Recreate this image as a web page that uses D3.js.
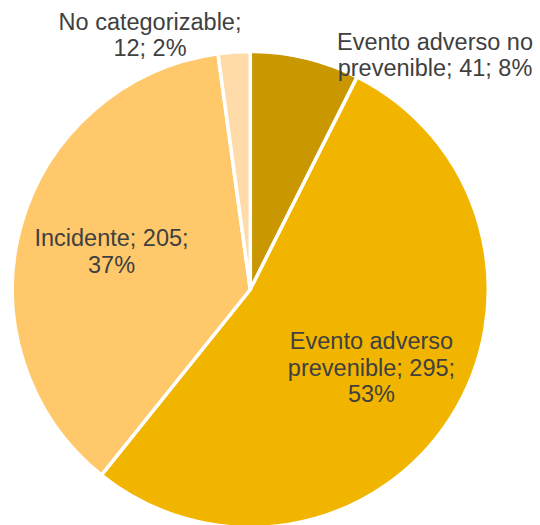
<!DOCTYPE html>
<html>
<head>
<meta charset="utf-8">
<script src="https://cdn.jsdelivr.net/npm/d3@7/dist/d3.min.js"></script>
<style>
  html, body { margin: 0; padding: 0; background: #fff; }
  svg { display: block; }
</style>
</head>
<body>
<svg id="chart" width="540" height="525"></svg>
<script>
// Slices, clockwise from 12 o'clock
const categories = ["Evento adverso no prevenible", "Evento adverso prevenible", "Incidente", "No categorizable"];
const counts = [41, 295, 205, 12];
const percents = [8, 53, 37, 2];
// Label text broken into lines
const labelLines = [
  ["Evento adverso no", "prevenible; 41; 8%"],
  ["Evento adverso", "prevenible; 295;", "53%"],
  ["Incidente; 205;", "37%"],
  ["No categorizable;", "12; 2%"]
];
const colors = ["#C99700", "#F1B500", "#FEC86B", "#FEDBA8"];

const width = 540, height = 525;
const cx = 250.3, cy = 289.5, radius = 238;
const fontSize = 23.5, lineHeight = 26.5;

const svg = d3.select("#chart");
const g = svg.append("g").attr("transform", `translate(${cx},${cy})`);

const data = categories.map((c, i) => ({ name: c, value: counts[i], pct: percents[i], lines: labelLines[i], color: colors[i] }));

const pie = d3.pie().value(d => d.value).sort(null);
const arcs = pie(data);

const arc = d3.arc().innerRadius(0).outerRadius(radius);

g.selectAll("path.slice")
  .data(arcs)
  .join("path")
  .attr("class", "slice")
  .attr("d", arc)
  .attr("fill", d => d.data.color)
  .attr("stroke", "#fff")
  .attr("stroke-width", 3.5)
  .attr("stroke-linejoin", "round");

// Inside labels sit on a ring inside the pie; the two narrow slices get their labels outside
const inner = d3.arc().innerRadius(radius * 0.605).outerRadius(radius * 0.605);
const outsideLabelPos = { 0: [435 - cx, 54.5 - cy], 3: [150 - cx, 34.7 - cy] };

const labels = g.selectAll("text.lbl")
  .data(arcs)
  .join("text")
  .attr("class", "lbl")
  .attr("text-anchor", "middle")
  .attr("font-family", "'Liberation Sans', Arial, sans-serif")
  .attr("font-size", fontSize)
  .attr("fill", "#404040")
  .attr("transform", d => {
    const p = outsideLabelPos[d.index] || inner.centroid(d);
    return `translate(${p[0]},${p[1]})`;
  });

labels.each(function(d) {
  const n = d.data.lines.length;
  const first = -(n - 1) * lineHeight / 2 + fontSize * 0.36;
  d3.select(this).selectAll("tspan")
    .data(d.data.lines)
    .join("tspan")
    .attr("x", 0)
    .attr("y", (t, i) => first + i * lineHeight)
    .text(t => t);
});
</script>
</body>
</html>
